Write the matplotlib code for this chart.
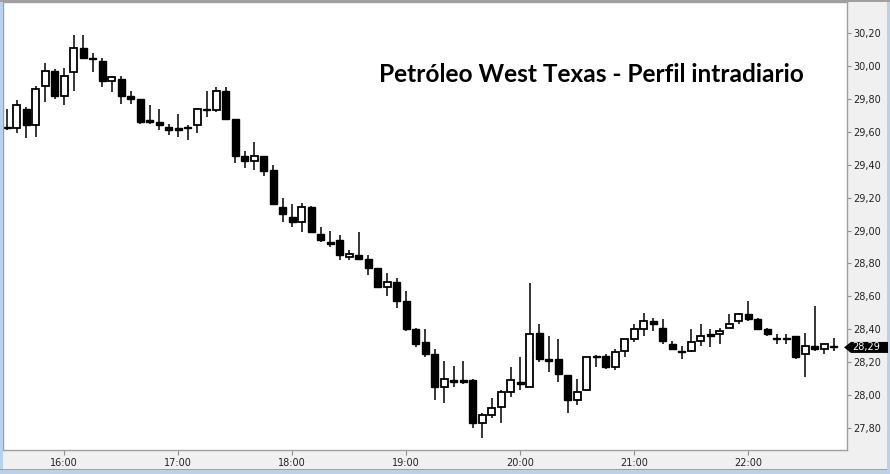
import matplotlib
matplotlib.use('Agg')
import matplotlib.pyplot as plt
import matplotlib.transforms as mtransforms
from matplotlib.patches import Rectangle, Polygon
from matplotlib.ticker import FixedLocator, FuncFormatter
import numpy as np
import pandas as pd

# velas de 5 minutos, 15:30 - 22:45
opens = [29.63, 29.62, 29.74, 29.64, 29.88, 29.97, 29.82, 29.96, 30.11, 30.05,
         30.03, 29.91, 29.92, 29.82, 29.80, 29.67, 29.66, 29.63, 29.62, 29.63,
         29.64, 29.74, 29.73, 29.85, 29.68, 29.45, 29.42, 29.45, 29.37, 29.14,
         29.08, 29.05, 29.14, 28.98, 28.93, 28.94, 28.84, 28.85, 28.83, 28.77,
         28.66, 28.69, 28.57, 28.40, 28.32, 28.25, 28.05, 28.09, 28.09, 28.09,
         27.83, 27.88, 27.93, 28.02, 28.08, 28.05, 28.38, 28.22, 28.22, 28.12,
         27.97, 28.03, 28.24, 28.24, 28.17, 28.27, 28.34, 28.40, 28.45, 28.41,
         28.31, 28.27, 28.27, 28.33, 28.37, 28.37, 28.41, 28.45, 28.49, 28.46,
         28.40, 28.35, 28.35, 28.36, 28.25, 28.30, 28.28, 28.30]
highs = [29.74, 29.79, 29.75, 29.88, 30.02, 29.98, 29.99, 30.19, 30.19, 30.08,
         30.05, 29.94, 29.94, 29.85, 29.80, 29.76, 29.74, 29.65, 29.71, 29.64,
         29.745, 29.85, 29.87, 29.87, 29.68, 29.48, 29.54, 29.45, 29.40, 29.20,
         29.16, 29.17, 29.15, 29.02, 29.00, 28.97, 28.88, 28.99, 28.85, 28.77,
         28.74, 28.71, 28.63, 28.41, 28.40, 28.28, 28.21, 28.18, 28.21, 28.10,
         27.89, 27.98, 28.03, 28.17, 28.23, 28.68, 28.43, 28.36, 28.34, 28.12,
         28.10, 28.23, 28.245, 28.25, 28.28, 28.34, 28.43, 28.50, 28.47, 28.46,
         28.33, 28.30, 28.40, 28.43, 28.40, 28.41, 28.49, 28.50, 28.57, 28.47,
         28.41, 28.37, 28.37, 28.36, 28.38, 28.54, 28.31, 28.35]
lows = [29.61, 29.59, 29.56, 29.57, 29.78, 29.80, 29.76, 29.85, 30.04, 29.96,
        29.87, 29.84, 29.77, 29.77, 29.65, 29.65, 29.61, 29.58, 29.57, 29.55,
        29.59, 29.69, 29.72, 29.67, 29.41, 29.38, 29.37, 29.33, 29.16, 29.05,
        29.02, 28.99, 28.99, 28.93, 28.90, 28.82, 28.82, 28.82, 28.73, 28.65,
        28.60, 28.53, 28.39, 28.29, 28.23, 27.97, 27.95, 28.05, 28.07, 27.80,
        27.74, 27.86, 27.83, 27.99, 28.03, 28.05, 28.20, 28.14, 28.08, 27.89,
        27.94, 28.03, 28.17, 28.16, 28.15, 28.23, 28.32, 28.36, 28.39, 28.31,
        28.28, 28.22, 28.26, 28.30, 28.29, 28.31, 28.41, 28.43, 28.45, 28.40,
        28.36, 28.31, 28.31, 28.22, 28.11, 28.27, 28.25, 28.27]
closes = [29.62, 29.76, 29.64, 29.86, 29.97, 29.82, 29.94, 30.11, 30.05, 30.04,
          29.91, 29.93, 29.82, 29.80, 29.66, 29.66, 29.64, 29.61, 29.61, 29.62,
          29.74, 29.73, 29.85, 29.68, 29.45, 29.42, 29.45, 29.36, 29.16, 29.10,
          29.05, 29.14, 28.99, 28.94, 28.92, 28.85, 28.86, 28.83, 28.77, 28.66,
          28.69, 28.57, 28.40, 28.31, 28.25, 28.05, 28.10, 28.08, 28.08, 27.83,
          27.88, 27.92, 28.02, 28.09, 28.07, 28.37, 28.22, 28.21, 28.13, 27.97,
          28.02, 28.23, 28.23, 28.17, 28.26, 28.34, 28.40, 28.45, 28.43, 28.33,
          28.28, 28.26, 28.32, 28.36, 28.36, 28.39, 28.43, 28.49, 28.46, 28.40,
          28.37, 28.34, 28.34, 28.23, 28.30, 28.28, 28.31, 28.29]

hour_labels = ['16:00', '17:00', '18:00', '19:00', '20:00', '21:00', '22:00']
y_ticks = [27.80, 28.00, 28.20, 28.40, 28.60, 28.80, 29.00, 29.20, 29.40,
           29.60, 29.80, 30.00, 30.20]
last_price = 28.29
title = 'Petróleo West Texas - Perfil intradiario'

times = pd.date_range('2016-01-01 15:30', periods=len(opens), freq='5min')
o = np.array(opens)
h = np.array(highs)
l = np.array(lows)
c = np.array(closes)
idx = np.arange(len(o))

W, H = 890, 474
fig = plt.figure(figsize=(W / 100, H / 100), dpi=100, facecolor='#f0f0f0')
ax = fig.add_axes([3 / W, (H - 450) / H, 844 / W, 448 / H])
ax.set_facecolor('white')

# mechas
ax.vlines(idx, l, h, color='black', linewidth=1.1, zorder=1)

# cuerpos
up = c >= o
body_w = 0.7
bottom = np.minimum(o, c)
height = np.maximum(np.abs(c - o), 0.006)
ax.bar(idx[up], height[up], bottom=bottom[up], width=body_w,
       facecolor='white', edgecolor='black', linewidth=1.3, zorder=2)
ax.bar(idx[~up], height[~up], bottom=bottom[~up], width=body_w,
       facecolor='black', edgecolor='black', linewidth=1.0, zorder=2)

ax.set_xlim(-0.45, len(o) + 0.4)
ax.set_ylim(27.667, 30.388)

# ejes
hour_pos = [i for i, t in enumerate(times) if t.minute == 0 and t.strftime('%H:%M') in hour_labels]
ax.xaxis.set_major_locator(FixedLocator(hour_pos))
ax.set_xticklabels([times[i].strftime('%H:%M') for i in hour_pos])
ax.yaxis.tick_right()
ax.yaxis.set_major_locator(FixedLocator(y_ticks))
ax.yaxis.set_major_formatter(FuncFormatter(lambda v, p: f'{v:.2f}'.replace('.', ',')))
ax.tick_params(axis='y', direction='out', length=3, width=0.8, color='#909090',
               labelsize=7, labelcolor='#222222', pad=1.5)
ax.tick_params(axis='x', direction='out', length=3.5, width=0.8, color='#909090',
               labelsize=7, labelcolor='#222222', pad=2.5)
for s in ax.spines.values():
    s.set_color('#a0a0a0')
    s.set_linewidth(1.0)

# etiqueta del ultimo precio
tr = mtransforms.blended_transform_factory(fig.transFigure, ax.transData)
hh = 5.5 / 164.6
pts = [(844 / W, last_price), (851 / W, last_price + hh), (888 / W, last_price + hh),
       (888 / W, last_price - hh), (851 / W, last_price - hh)]
fig.add_artist(Polygon(pts, closed=True, transform=tr, facecolor='black',
                       edgecolor='none', clip_on=False, zorder=5))
fig.text(852 / W, last_price, f'{last_price:.2f}'.replace('.', ','), transform=tr,
         color='white', fontsize=7, va='center', ha='left', zorder=6)

# titulo
fig.text(591 / W, (H - 82) / H, title, fontsize=17.6, fontweight='bold',
         family='Lato', ha='center', va='baseline', color='black')

# marco de la ventana
fig.add_artist(Rectangle((0, 0), 3 / W, 1, transform=fig.transFigure,
                         facecolor='#b9d1ea', edgecolor='none'))
fig.add_artist(Rectangle((0, 0), 1, 4 / H, transform=fig.transFigure,
                         facecolor='#b9d1ea', edgecolor='none'))
fig.add_artist(Rectangle((0, 4 / H), 1, 1 / H, transform=fig.transFigure,
                         facecolor='#a0a0a0', edgecolor='none'))
fig.add_artist(Rectangle((887 / W, 0), 3 / W, 1, transform=fig.transFigure,
                         facecolor='#b9d1ea', edgecolor='none'))
fig.add_artist(Rectangle((0, 1 - 1.5 / H), 1, 1.5 / H, transform=fig.transFigure,
                         facecolor='#a0a0a0', edgecolor='none'))

fig.savefig('out.png', dpi=100, facecolor=fig.get_facecolor())
